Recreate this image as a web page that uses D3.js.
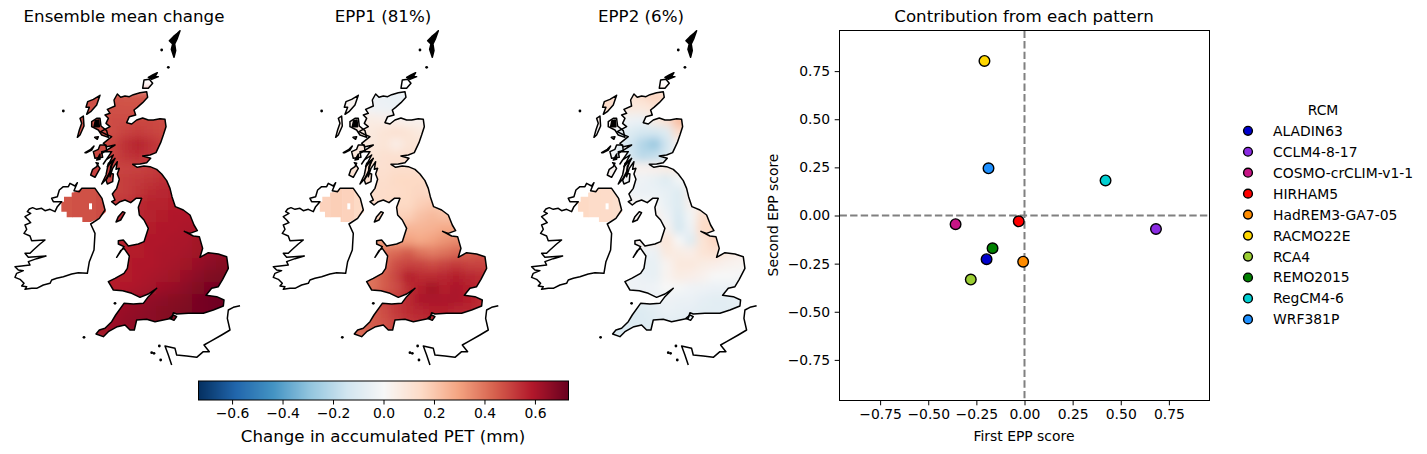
<!DOCTYPE html>
<html><head><meta charset="utf-8">
<script src="https://cdn.jsdelivr.net/npm/d3@7/dist/d3.min.js"></script>
<style>html,body{margin:0;background:#fff}svg{display:block}text{font-family:"DejaVu Sans";fill:#000}</style>
</head><body><svg id="c" width="1427" height="454"></svg>
<script>
// ---- data (coast outlines in map-grid units, field values in mm) ----
const mapTitles=["Ensemble mean change","EPP1 (81%)","EPP2 (6%)"];
const greatBritain=[[352,222],[362,232],[375,228],[388,230],[400,224],[420,218],[440,215],[443,232],[428,248],[412,262],[402,270],[407,285],[388,290],[380,308],[395,312],[410,300],[428,294],[445,300],[460,300],[480,296],[495,298],[498,320],[490,345],[482,368],[468,398],[450,405],[428,408],[452,415],[440,428],[420,432],[398,433],[412,442],[432,438],[450,440],[470,448],[485,462],[500,482],[510,505],[516,530],[526,560],[550,570],[570,585],[582,615],[592,632],[570,640],[553,634],[580,648],[598,650],[608,685],[600,712],[625,698],[655,702],[680,710],[685,745],[668,778],[655,800],[635,805],[618,826],[650,830],[672,840],[670,858],[640,870],[610,880],[565,880],[530,882],[520,878],[515,895],[490,900],[465,905],[440,898],[410,900],[403,930],[390,930],[375,915],[352,920],[325,935],[310,950],[288,942],[298,930],[315,925],[335,905],[347,885],[372,850],[400,852],[430,850],[445,830],[470,805],[445,822],[420,832],[395,820],[368,812],[340,810],[325,785],[345,775],[372,760],[382,745],[388,708],[372,685],[362,692],[350,712],[372,680],[355,672],[355,662],[370,660],[385,678],[415,672],[432,665],[445,625],[432,600],[418,585],[415,562],[425,535],[408,535],[392,548],[375,540],[360,545],[347,555],[335,545],[345,540],[337,522],[350,505],[358,478],[352,462],[358,445],[348,448],[352,425],[338,445],[330,470],[332,440],[345,415],[322,440],[340,405],[318,420],[310,432],[335,395],[315,395],[305,400],[345,375],[320,380],[310,370],[335,350],[322,345],[302,335],[330,320],[318,310],[325,295],[315,285],[330,280],[322,268],[345,258],[342,240]];
const islandsGB=[
 [[300,226],[280,238],[263,245],[258,262],[268,262],[260,283],[272,275],[290,255]],
 [[250,288],[240,295],[245,310],[238,330],[232,352],[240,345],[252,318]],
 [[275,305],[290,295],[300,295],[303,318],[320,332],[325,352],[305,345],[295,330],[275,320]],
 [[284,352],[295,350],[292,358]],
 [[300,375],[318,375],[320,392],[305,395],[308,412],[285,415],[280,395],[295,388]],
 [[288,428],[295,430],[290,440],[278,448],[272,465],[285,472],[300,445]],
 [[325,430],[340,420],[330,455],[318,478],[305,492],[318,465]],
 [[330,460],[340,462],[338,485],[322,492],[318,480]],
 [[368,575],[375,578],[362,600],[348,606],[355,590]],
 [[508,895],[520,885],[530,890],[522,901]],
 [[432,180],[448,178],[458,190],[445,205],[428,205]]
];
const solidIslands=[
 [[540,32],[532,40],[520,50],[508,62],[518,72],[514,88],[522,112],[527,92],[524,72],[532,55]],
 [[445,172],[458,165],[472,158],[465,170],[475,170],[455,178]],
 [[255,398],[272,388],[282,378],[275,390],[260,398]],
 [[286,302],[296,300],[298,320],[282,320]],
 [[300,402],[290,420],[300,418]]
];
const ireland=[[232,488],[225,498],[210,490],[205,500],[190,500],[178,510],[172,530],[155,535],[160,545],[185,545],[172,560],[165,575],[150,568],[135,572],[125,565],[110,568],[98,563],[88,567],[82,575],[92,580],[75,590],[85,600],[92,608],[75,615],[80,628],[72,640],[90,648],[95,662],[135,660],[120,672],[100,690],[90,700],[75,700],[85,712],[138,708],[110,716],[85,725],[90,735],[65,738],[45,740],[55,750],[70,752],[50,760],[45,772],[60,778],[72,790],[65,798],[80,800],[75,808],[95,805],[110,805],[130,795],[150,790],[155,780],[170,775],[190,770],[215,762],[235,758],[262,760],[268,725],[282,690],[285,640],[272,612],[298,595],[315,570],[306,535],[285,505],[245,505],[238,515],[222,512]];
const niMask=[[192,530],[215,530],[215,518],[228,515],[245,505],[285,505],[306,535],[318,575],[298,595],[272,606],[247,606],[247,592],[200,592],[200,575],[184,575],[184,545],[192,545]];
const niHole=[[267,550],[276,550],[276,568],[267,568]];
const france=[[720,857],[700,862],[685,870],[682,895],[690,930],[665,945],[630,965],[612,975],[628,995],[610,995],[590,1012],[560,1008],[530,1005],[525,985],[495,978],[505,1005],[515,1035]];
const dots=[[190,273],[505,142],[485,90],[252,952],[478,978],[455,998],[482,1020],[345,850],[462,1000]];
const gridX0=180,gridY0=210,gridStep=36;
const ensembleField=[
[.46,.46,.48,.46,.47,.46,.46,.46,.46,.46,.46,.46,.46,.46,.46],
[.46,.46,.47,.47,.47,.47,.47,.47,.47,.47,.47,.47,.47,.47,.47],
[.47,.47,.47,.47,.48,.48,.49,.49,.48,.47,.47,.47,.47,.47,.47],
[.47,.47,.47,.47,.48,.50,.51,.50,.49,.48,.47,.47,.47,.47,.47],
[.48,.48,.48,.48,.50,.54,.57,.54,.51,.49,.49,.49,.49,.49,.49],
[.49,.49,.49,.49,.50,.53,.54,.52,.52,.50,.50,.50,.50,.50,.50],
[.50,.50,.50,.50,.50,.50,.50,.51,.52,.53,.53,.53,.53,.53,.53],
[.50,.50,.50,.50,.50,.51,.52,.53,.54,.55,.55,.55,.55,.55,.55],
[.50,.50,.50,.50,.50,.51,.53,.55,.56,.57,.57,.57,.57,.57,.57],
[.52,.52,.52,.52,.52,.53,.55,.57,.57,.58,.58,.59,.59,.59,.59],
[.54,.54,.54,.54,.54,.55,.56,.57,.58,.59,.59,.59,.59,.59,.59],
[.56,.56,.56,.56,.56,.56,.57,.58,.59,.59,.60,.60,.60,.60,.60],
[.57,.57,.57,.57,.57,.57,.58,.59,.59,.60,.60,.62,.62,.62,.62],
[.57,.57,.57,.57,.57,.58,.58,.59,.60,.60,.61,.62,.64,.65,.65],
[.58,.58,.58,.58,.58,.58,.59,.59,.60,.61,.62,.64,.66,.67,.67],
[.58,.58,.58,.58,.58,.58,.59,.60,.61,.62,.64,.66,.68,.69,.69],
[.58,.58,.58,.58,.58,.59,.60,.61,.63,.64,.66,.68,.70,.71,.71],
[.62,.62,.62,.62,.62,.63,.64,.65,.66,.67,.68,.70,.71,.72,.72],
[.62,.62,.62,.62,.63,.64,.65,.66,.67,.68,.69,.70,.71,.72,.72],
[.60,.60,.60,.62,.63,.65,.66,.66,.67,.68,.69,.70,.71,.72,.72],
[.60,.60,.60,.62,.63,.64,.65,.66,.67,.68,.69,.70,.71,.72,.72]];
const epp1Field=[
[.02,.02,.02,.02,-.04,-.05,-.05,-.05,-.05,-.05,-.05,-.05,-.05,-.05,-.05],
[.02,.02,.02,.02,-.03,-.04,-.05,-.05,-.05,-.05,-.05,-.05,-.05,-.05,-.05],
[.04,.04,.04,.05,.06,.05,.04,.03,.03,.03,.03,.03,.03,.03,.03],
[.06,.06,.06,.07,.08,.10,.12,.10,.07,.07,.07,.07,.07,.07,.07],
[.08,.08,.08,.08,.08,.10,.05,.10,.10,.10,.10,.10,.10,.10,.10],
[.09,.09,.09,.09,.10,.12,.12,.12,.12,.12,.12,.12,.12,.12,.12],
[.10,.10,.10,.11,.12,.12,.13,.13,.12,.12,.12,.12,.12,.12,.12],
[.12,.12,.12,.12,.13,.13,.15,.15,.15,.14,.14,.14,.14,.14,.14],
[.13,.13,.13,.13,.13,.14,.14,.15,.16,.14,.14,.14,.14,.14,.14],
[.14,.14,.14,.14,.14,.14,.15,.15,.18,.20,.18,.18,.18,.18,.18],
[.16,.16,.16,.16,.16,.16,.17,.18,.22,.24,.22,.22,.22,.22,.22],
[.20,.20,.20,.20,.20,.20,.20,.25,.25,.26,.28,.28,.28,.28,.28],
[.30,.30,.30,.30,.30,.30,.30,.30,.28,.30,.33,.35,.33,.33,.33],
[.38,.38,.38,.38,.38,.40,.42,.45,.40,.38,.40,.42,.44,.46,.46],
[.40,.40,.40,.40,.40,.42,.48,.50,.50,.48,.50,.52,.50,.50,.48],
[.40,.40,.40,.40,.40,.45,.50,.58,.55,.55,.56,.58,.56,.55,.52],
[.40,.40,.40,.40,.40,.45,.48,.55,.58,.62,.58,.60,.58,.55,.50],
[.45,.45,.45,.45,.47,.50,.52,.55,.60,.60,.60,.60,.58,.55,.52],
[.45,.45,.45,.45,.45,.48,.52,.55,.56,.58,.58,.56,.56,.54,.52],
[.42,.42,.42,.42,.45,.47,.50,.52,.54,.55,.55,.55,.55,.54,.52],
[.42,.42,.42,.42,.45,.47,.50,.52,.54,.55,.55,.55,.55,.54,.52]];
const epp2Field=[
[.14,.14,.14,.12,.10,.13,.17,.15,.15,.15,.15,.15,.15,.15,.15],
[.14,.14,.14,.10,.08,.08,.10,.10,.10,.10,.10,.10,.10,.10,.10],
[.05,.05,.05,.00,-.04,-.05,.06,.12,.24,.24,.24,.24,.24,.24,.24],
[.00,.00,.00,-.05,-.10,-.13,-.13,-.10,.14,.14,.14,.14,.14,.14,.14],
[.00,.00,.00,-.08,-.15,-.22,-.28,-.15,.02,.02,.02,.02,.02,.02,.02],
[.00,.00,.00,-.05,-.15,-.20,-.18,-.12,.02,.02,.02,.02,.02,.02,.02],
[.03,.03,.03,.03,.04,.03,.04,.06,.06,.06,.06,.06,.06,.06,.06],
[.02,.02,.02,.00,-.03,-.04,-.06,-.10,-.02,-.02,-.02,-.02,-.02,-.02,-.02],
[.02,.02,.02,.00,-.03,-.05,-.05,-.06,-.10,.04,.04,.04,.04,.04,.04],
[.02,.02,.02,.02,.02,.00,.00,-.06,-.10,.03,.05,.05,.05,.05,.05],
[.02,.02,.02,.02,.02,.02,.04,-.03,-.12,-.02,.13,.13,.13,.13,.13],
[.03,.03,.03,.03,.03,.03,.03,.02,-.13,-.04,.15,.15,.15,.15,.15],
[.04,.04,.04,.04,.04,.04,.05,.10,.00,-.10,.10,.16,.16,.16,.16],
[-.02,-.02,-.02,-.02,-.02,-.03,-.05,.08,.06,.05,.10,.12,.08,.05,.05],
[-.05,-.05,-.05,-.05,-.05,-.06,-.06,.02,.08,.08,.06,.05,.03,.02,.02],
[-.02,-.02,-.02,-.02,-.03,-.05,-.06,.02,.06,.05,.03,.00,.00,-.01,-.01],
[.00,.00,.00,.00,-.03,-.04,-.03,.00,-.01,-.03,-.04,-.05,-.05,-.05,-.05],
[-.05,-.05,-.05,-.05,-.05,-.06,-.05,-.04,-.05,-.05,-.07,-.08,-.08,-.06,-.06],
[-.10,-.10,-.10,-.10,-.10,-.10,-.08,-.05,-.06,-.07,-.08,-.08,-.08,-.08,-.08],
[-.10,-.10,-.10,-.10,-.10,-.10,-.09,-.08,-.08,-.08,-.08,-.08,-.08,-.08,-.08],
[-.10,-.10,-.10,-.10,-.10,-.10,-.09,-.08,-.08,-.08,-.08,-.08,-.08,-.08,-.08]];
const niFields=[[.46,.47,.47,.48],[.17,.18,.17,.15],[.15,.14,.14,.13]];
const colorStops=["#053061","#2166ac","#4393c3","#92c5de","#d1e5f0","#f7f7f7","#fddbc7","#f4a582","#d6604d","#b2182b","#67001f"];
const colorbarTicks=[-0.6,-0.4,-0.2,0,0.2,0.4,0.6];
const colorbarLabel="Change in accumulated PET (mm)";
const rcmNames=["ALADIN63","CCLM4-8-17","COSMO-crCLIM-v1-1","HIRHAM5","HadREM3-GA7-05","RACMO22E","RCA4","REMO2015","RegCM4-6","WRF381P"];
const rcmColors=["#0000cd","#8a2be2","#c71585","#ff0000","#ff8c00","#ffd700","#9acd32","#008000","#00ced1","#1e90ff"];
const firstScore=[-.197,.683,-.358,-.03,-.007,-.208,-.279,-.166,.421,-.187];
const secondScore=[-.227,-.07,-.045,-.03,-.24,.803,-.333,-.17,.182,.245];
const scoreTicks=[-.75,-.5,-.25,0,.25,.5,.75];

// ---- scales ----
const svg=d3.select("#c");
const minus=s=>s.replace("-","\u2212");
const vMax=0.733;
const color=d3.scaleLinear().domain(d3.range(11).map(i=>-vMax+i*vMax/5)).range(colorStops).clamp(true);
const gx=d3.scaleLinear().domain([0,780]).range([0,260]);
const gy=d3.scaleLinear().domain([0,1050]).range([20,370]);
const path=d3.line().x(d=>gx(d[0])).y(d=>gy(d[1]));
const closed=a=>path(a)+"Z";
const panelOffset=[0,258.3,516.6];

const defs=svg.append("defs");
defs.append("filter").attr("id","soft").attr("x","-10%").attr("y","-10%").attr("width","120%").attr("height","120%")
  .append("feGaussianBlur").attr("stdDeviation",4.5);
defs.append("clipPath").attr("id","landClip").selectAll("path").data([greatBritain,...islandsGB]).join("path").attr("d",closed);
defs.append("clipPath").attr("id","niClip").append("path").attr("d",closed(niMask));

[ensembleField,epp1Field,epp2Field].forEach((field,p)=>{
  const g=svg.append("g").attr("transform",`translate(${panelOffset[p]},0)`);
  const cells=field.flatMap((row,j)=>row.map((v,i)=>({v,x:gridX0+i*gridStep,y:gridY0+j*gridStep})));
  g.append("g").attr("clip-path","url(#landClip)").append("g").attr("filter","url(#soft)")
   .selectAll("rect").data(cells).join("rect")
   .attr("x",d=>gx(d.x)).attr("y",d=>gy(d.y)).attr("width",gx(gridStep)+.5).attr("height",gy(gridStep)-gy(0)+.5)
   .attr("fill",d=>color(d.v));
  g.append("g").attr("clip-path","url(#niClip)").selectAll("rect").data(niFields[p]).join("rect")
   .attr("x",(d,i)=>gx(180+i*36)).attr("y",gy(495)).attr("width",gx(36)+.5).attr("height",gy(115)-gy(0))
   .attr("fill",d=>color(d));
  g.append("path").attr("d",closed(niHole)).attr("fill","#fff");
  const coast=g.append("g").attr("fill","none").attr("stroke","#000").attr("stroke-width",1.5).attr("stroke-linejoin","round");
  coast.append("path").attr("d",closed(greatBritain));
  coast.append("path").attr("d",closed(ireland));
  coast.append("path").attr("d",path(france));
  coast.selectAll(".isl").data(islandsGB).join("path").attr("class","isl").attr("d",closed);
  coast.selectAll(".sol").data(solidIslands).join("path").attr("class","sol").attr("d",closed).attr("fill","#000");
  g.append("g").selectAll("circle").data(dots).join("circle")
   .attr("cx",d=>gx(d[0])).attr("cy",d=>gy(d[1])).attr("r",1.4).attr("fill","#000");
});
svg.selectAll(".mt").data(mapTitles).join("text").attr("class","mt")
  .attr("x",(d,i)=>[124,383,641][i]).attr("y",22).attr("text-anchor","middle").attr("font-size",16.67).text(d=>d);

// ---- colorbar ----
const cbX=d3.scaleLinear().domain([-vMax,vMax]).range([198.5,568.5]);
const cbPixels=d3.range(370);
const cbPixelValue=d3.scaleLinear().domain([0,370]).range([-vMax,vMax]);
const cb=svg.append("g");
cb.selectAll("rect").data(cbPixels).join("rect").attr("shape-rendering","crispEdges")
  .attr("x",i=>198.5+i).attr("y",381).attr("width",1.2).attr("height",19)
  .attr("fill",i=>color(cbPixelValue(i+.5)));
cb.append("rect").attr("x",198.5).attr("y",381).attr("width",370).attr("height",19).attr("fill","none").attr("stroke","#000");
const cbAxis=cb.append("g").attr("transform","translate(0,400)")
  .call(d3.axisBottom(cbX).tickValues(colorbarTicks).tickSize(4.5).tickPadding(4).tickFormat(d=>minus(d3.format(".1f")(d))));
cbAxis.select(".domain").remove();
cbAxis.selectAll("text").attr("font-size",13.9).attr("font-family","DejaVu Sans");
svg.append("text").attr("x",383).attr("y",442).attr("text-anchor","middle").attr("font-size",16.67).text(colorbarLabel);

// ---- scatter ----
const sx=d3.scaleLinear().domain([-.961,.961]).range([839.5,1209.5]);
const sy=d3.scaleLinear().domain([-.961,.961]).range([400.5,30.5]);
const sg=svg.append("g");
sg.append("line").attr("x1",839.5).attr("x2",1209.5).attr("y1",sy(0)).attr("y2",sy(0));
sg.append("line").attr("x1",sx(0)).attr("x2",sx(0)).attr("y1",30.5).attr("y2",400.5);
sg.selectAll("line").attr("stroke","#808080").attr("stroke-width",2).attr("stroke-dasharray","7.4,3.2");
sg.selectAll("circle").data(rcmNames).join("circle")
  .attr("cx",(d,i)=>sx(firstScore[i])).attr("cy",(d,i)=>sy(secondScore[i])).attr("r",5.3)
  .attr("fill",(d,i)=>rcmColors[i]).attr("stroke","#000").attr("stroke-width",1.4);
sg.append("rect").attr("x",839.5).attr("y",30.5).attr("width",370).attr("height",370).attr("fill","none").attr("stroke","#000");
const fmt=d=>minus(d3.format(".2f")(d));
const ax=sg.append("g").attr("transform","translate(0,400.5)").call(d3.axisBottom(sx).tickValues(scoreTicks).tickSize(4.8).tickPadding(4).tickFormat(fmt));
const ay=sg.append("g").attr("transform","translate(839.5,0)").call(d3.axisLeft(sy).tickValues(scoreTicks).tickSize(4.8).tickPadding(4.5).tickFormat(fmt));
[ax,ay].forEach(a=>{a.select(".domain").remove();a.selectAll("text").attr("font-size",13.9).attr("font-family","DejaVu Sans");});
svg.append("text").attr("x",1024).attr("y",22).attr("text-anchor","middle").attr("font-size",16.67).text("Contribution from each pattern");
svg.append("text").attr("x",1024).attr("y",441).attr("text-anchor","middle").attr("font-size",13.9).text("First EPP score");
svg.append("text").attr("transform","translate(778,215) rotate(-90)").attr("text-anchor","middle").attr("font-size",13.9).text("Second EPP score");

// ---- legend ----
const ly=d3.scaleLinear().domain([0,9]).range([130.8,319.4]);
svg.append("text").attr("x",1323).attr("y",115).attr("text-anchor","middle").attr("font-size",13.9).text("RCM");
const lg=svg.append("g");
lg.selectAll("circle").data(rcmNames).join("circle").attr("cx",1248).attr("cy",(d,i)=>ly(i)).attr("r",4.4)
  .attr("fill",(d,i)=>rcmColors[i]).attr("stroke","#000").attr("stroke-width",1.4);
lg.selectAll("text").data(rcmNames).join("text").attr("x",1273).attr("y",(d,i)=>ly(i)+5).attr("font-size",13.9).text(d=>d);
</script></body></html>
